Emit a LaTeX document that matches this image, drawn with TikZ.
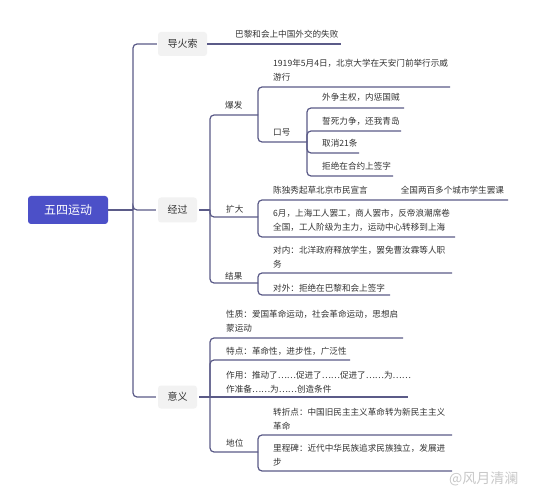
\documentclass[tikz,border=0pt]{standalone}
\usepackage{fontspec}
\newfontfamily\cjk{Noto Sans CJK SC}
\definecolor{linec}{HTML}{5B5B88}
\definecolor{rootc}{HTML}{4C50C8}
\definecolor{boxg}{HTML}{F2F2F2}
\definecolor{txtc}{HTML}{333333}
\definecolor{wmc}{HTML}{C8C8C8}
\newcommand{\twol}[2]{\begin{tabular}[t]{@{}l@{}}#1\\[2pt]#2\end{tabular}}
\tikzset{
  conn/.style={draw=linec, line width=1.2pt, rounded corners=4pt},
  rootbox/.style={fill=rootc, rounded corners=3pt, minimum width=80pt, minimum height=28pt, inner sep=0pt, text=white, font=\cjk\fontsize{12}{14}\selectfont},
  lvlbox/.style={fill=boxg, rounded corners=3pt, minimum height=24pt, inner sep=0pt, text=txtc, font=\cjk\fontsize{10}{12}\selectfont},
  leaf/.style={anchor=base west, inner sep=0pt, text=txtc, font=\cjk\fontsize{8.6}{12}\selectfont},
}
\begin{document}
\begin{tikzpicture}[x=1pt, y=-1pt]
\useasboundingbox[fill=white] (0,0) rectangle (536,500);

% root and level-1 boxes
\node[rootbox] (root) at (68,210) {五四运动};
\node[lvlbox, minimum width=49pt] (dhs) at (182.5,44) {导火索};
\node[lvlbox, minimum width=39pt, minimum height=25pt] (jg) at (177.5,210) {经过};
\node[lvlbox, minimum width=39pt, minimum height=23pt] (yy) at (177.5,397) {意义};

% junctions
\coordinate (J0) at (133,210);
\coordinate (J1) at (210,210);
\coordinate (J2) at (258,115);
\coordinate (J3) at (307,142);
\coordinate (J4) at (258,217);
\coordinate (J5) at (258,283);
\coordinate (J6) at (210,397);
\coordinate (J7) at (258,452);

% underline ends
\coordinate (e_bl) at (341,44);
\coordinate (e_1919) at (450,87);
\coordinate (e_wz) at (404,108);
\coordinate (e_ss) at (401,131);
\coordinate (e_qx) at (359,153);
\coordinate (e_jj) at (393,176);
\coordinate (e_cd) at (508,200);
\coordinate (e_6y) at (455,237);
\coordinate (e_dn) at (452,273);
\coordinate (e_dw) at (390,295);
\coordinate (e_xz) at (403,338);
\coordinate (e_td) at (350,360);
\coordinate (e_zy) at (408,397);
\coordinate (e_zz) at (452,435);
\coordinate (e_lc) at (452,471);

% texts
\node[leaf] (t_bl) at (235,38) {巴黎和会上中国外交的失败};
\node[leaf] (t_bf) at (225,109) {爆发};
\node[leaf] (t_1919) at (273,67) {\twol{1919年5月4日，北京大学在天安门前举行示威}{游行}};
\node[leaf] (t_kh) at (273,136) {口号};
\node[leaf] (t_wz) at (322,101) {外争主权，内惩国贼};
\node[leaf] (t_ss) at (322,125) {誓死力争，还我青岛};
\node[leaf] (t_qx) at (322,147) {取消21条};
\node[leaf] (t_jj) at (322,170) {拒绝在合约上签字};
\node[leaf] (t_kd) at (226,212) {扩大};
\node[leaf] (t_cd) at (273,194) {陈独秀起草北京市民宣言\hspace{33pt}全国两百多个城市学生罢课};
\node[leaf] (t_6y) at (273,217) {\twol{6月，上海工人罢工，商人罢市，反帝浪潮席卷}{全国，工人阶级为主力，运动中心转移到上海}};
\node[leaf] (t_jgg) at (225,279) {结果};
\node[leaf] (t_dn) at (273,253) {\twol{对内：北洋政府释放学生，罢免曹汝霖等人职}{务}};
\node[leaf] (t_dw) at (273,291) {对外：拒绝在巴黎和会上签字};
\node[leaf] (t_xz) at (226,317) {\twol{性质：爱国革命运动，社会革命运动，思想启}{蒙运动}};
\node[leaf] (t_td) at (226,354) {特点：革命性，进步性，广泛性};
\node[leaf] (t_zy) at (226,378) {\twol{作用：推动了……促进了……促进了……为……}{作准备……为……创造条件}};
\node[leaf] (t_dwei) at (226,446) {地位};
\node[leaf] (t_zz) at (273,415) {\twol{转折点：中国旧民主主义革命转为新民主主义}{革命}};
\node[leaf] (t_lc) at (273,451) {\twol{里程碑：近代中华民族追求民族独立，发展进}{步}};

% watermark
\node[anchor=west, inner sep=0pt, text=wmc, font=\cjk\fontsize{14}{16}\selectfont] (wm) at (449,479) {@风月清澜};

% connectors level 0/1
\draw[conn] (root.east) -- (J0);
\draw[conn, shorten >=1pt] (J0) |- (dhs.west);
\draw[conn, shorten >=2pt] (J0) |- (jg.west);
\draw[conn, shorten >=2pt] (J0) |- (yy.west);
\draw[conn] (dhs.east) -- (e_bl);
\draw[conn, shorten <=2pt] (jg.east) -- (J1);
\draw[conn, shorten <=2pt] (yy.east) -- (J6);

% 经过 branch
\draw[conn] (J1) |- (J2);
\draw[conn] (J1) |- (J4);
\draw[conn] (J1) |- (J5);
\draw[conn] (J2) |- (e_1919);
\draw[conn] (J2) |- (J3);
\draw[conn] (J3) |- (e_wz);
\draw[conn] (J3) |- (e_ss);
\draw[conn] (J3) |- (e_qx);
\draw[conn] (J3) |- (e_jj);
\draw[conn] (J4) |- (e_cd);
\draw[conn] (J4) |- (e_6y);
\draw[conn] (J5) |- (e_dn);
\draw[conn] (J5) |- (e_dw);

% 意义 branch
\draw[conn] (J6) |- (e_xz);
\draw[conn] (J6) |- (e_td);
\draw[conn] (J6) -- (e_zy);
\draw[conn] (J6) |- (J7);
\draw[conn] (J7) |- (e_zz);
\draw[conn] (J7) |- (e_lc);
\end{tikzpicture}
\end{document}
